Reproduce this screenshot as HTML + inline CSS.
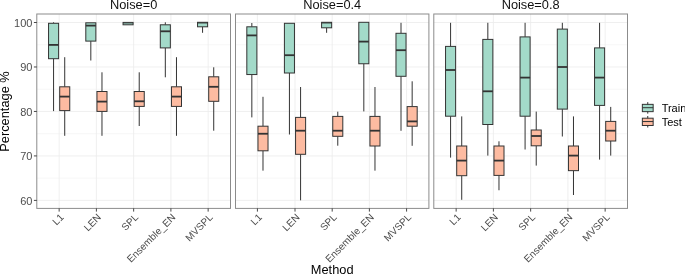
<!DOCTYPE html>
<html><head><meta charset="utf-8"><title>Boxplot</title>
<style>html,body{margin:0;padding:0;background:#fff;overflow:hidden}svg{display:block;will-change:transform;opacity:0.999}</style></head>
<body>
<svg width="685" height="275" viewBox="0 0 685 275" font-family="&quot;Liberation Sans&quot;, sans-serif">
<rect width="685" height="275" fill="#ffffff"/>
<line x1="36.8" x2="230.5" y1="44.74" y2="44.74" stroke="#ebebeb" stroke-width="0.4"/>
<line x1="36.8" x2="230.5" y1="89.21" y2="89.21" stroke="#ebebeb" stroke-width="0.4"/>
<line x1="36.8" x2="230.5" y1="133.69" y2="133.69" stroke="#ebebeb" stroke-width="0.4"/>
<line x1="36.8" x2="230.5" y1="178.16" y2="178.16" stroke="#ebebeb" stroke-width="0.4"/>
<line x1="36.8" x2="230.5" y1="22.50" y2="22.50" stroke="#ebebeb" stroke-width="0.8"/>
<line x1="36.8" x2="230.5" y1="66.97" y2="66.97" stroke="#ebebeb" stroke-width="0.8"/>
<line x1="36.8" x2="230.5" y1="111.45" y2="111.45" stroke="#ebebeb" stroke-width="0.8"/>
<line x1="36.8" x2="230.5" y1="155.92" y2="155.92" stroke="#ebebeb" stroke-width="0.8"/>
<line x1="36.8" x2="230.5" y1="200.40" y2="200.40" stroke="#ebebeb" stroke-width="0.8"/>
<line x1="59.15" x2="59.15" y1="14.0" y2="208.4" stroke="#ebebeb" stroke-width="0.8"/>
<line x1="96.40" x2="96.40" y1="14.0" y2="208.4" stroke="#ebebeb" stroke-width="0.8"/>
<line x1="133.65" x2="133.65" y1="14.0" y2="208.4" stroke="#ebebeb" stroke-width="0.8"/>
<line x1="170.90" x2="170.90" y1="14.0" y2="208.4" stroke="#ebebeb" stroke-width="0.8"/>
<line x1="208.15" x2="208.15" y1="14.0" y2="208.4" stroke="#ebebeb" stroke-width="0.8"/>
<line x1="53.57" x2="53.57" y1="22.3" y2="23.3" stroke="#333333" stroke-width="1.0"/>
<line x1="53.57" x2="53.57" y1="58.7" y2="111.1" stroke="#333333" stroke-width="1.0"/>
<rect x="48.55" y="23.3" width="10.05" height="35.40" fill="#a3dac9" stroke="#333333" stroke-width="1.0" stroke-linejoin="miter"/>
<line x1="48.55" x2="58.60" y1="44.9" y2="44.9" stroke="#333333" stroke-width="1.8"/>
<line x1="64.72" x2="64.72" y1="57.2" y2="86.8" stroke="#333333" stroke-width="1.0"/>
<line x1="64.72" x2="64.72" y1="110.6" y2="135.8" stroke="#333333" stroke-width="1.0"/>
<rect x="59.70" y="86.8" width="10.05" height="23.80" fill="#fdbba1" stroke="#333333" stroke-width="1.0" stroke-linejoin="miter"/>
<line x1="59.70" x2="69.75" y1="96.6" y2="96.6" stroke="#333333" stroke-width="1.8"/>
<line x1="90.82" x2="90.82" y1="41.1" y2="60.5" stroke="#333333" stroke-width="1.0"/>
<rect x="85.80" y="22.8" width="10.05" height="18.30" fill="#a3dac9" stroke="#333333" stroke-width="1.0" stroke-linejoin="miter"/>
<line x1="85.80" x2="95.85" y1="25.6" y2="25.6" stroke="#333333" stroke-width="1.8"/>
<line x1="101.97" x2="101.97" y1="72.3" y2="91.5" stroke="#333333" stroke-width="1.0"/>
<line x1="101.97" x2="101.97" y1="111.4" y2="135.8" stroke="#333333" stroke-width="1.0"/>
<rect x="96.95" y="91.5" width="10.05" height="19.90" fill="#fdbba1" stroke="#333333" stroke-width="1.0" stroke-linejoin="miter"/>
<line x1="96.95" x2="107.00" y1="101.6" y2="101.6" stroke="#333333" stroke-width="1.8"/>
<rect x="123.05" y="22.4" width="10.05" height="2.40" fill="#a3dac9" stroke="#333333" stroke-width="1.0" stroke-linejoin="miter"/>
<line x1="123.05" x2="133.10" y1="23.5" y2="23.5" stroke="#333333" stroke-width="0.4"/>
<line x1="139.22" x2="139.22" y1="72.3" y2="91.5" stroke="#333333" stroke-width="1.0"/>
<line x1="139.22" x2="139.22" y1="106.4" y2="126.0" stroke="#333333" stroke-width="1.0"/>
<rect x="134.20" y="91.5" width="10.05" height="14.90" fill="#fdbba1" stroke="#333333" stroke-width="1.0" stroke-linejoin="miter"/>
<line x1="134.20" x2="144.25" y1="101.3" y2="101.3" stroke="#333333" stroke-width="1.8"/>
<line x1="165.32" x2="165.32" y1="22.3" y2="24.8" stroke="#333333" stroke-width="1.0"/>
<line x1="165.32" x2="165.32" y1="47.9" y2="77.3" stroke="#333333" stroke-width="1.0"/>
<rect x="160.30" y="24.8" width="10.05" height="23.10" fill="#a3dac9" stroke="#333333" stroke-width="1.0" stroke-linejoin="miter"/>
<line x1="160.30" x2="170.35" y1="31.3" y2="31.3" stroke="#333333" stroke-width="1.8"/>
<line x1="176.47" x2="176.47" y1="57.2" y2="86.8" stroke="#333333" stroke-width="1.0"/>
<line x1="176.47" x2="176.47" y1="106.4" y2="135.8" stroke="#333333" stroke-width="1.0"/>
<rect x="171.45" y="86.8" width="10.05" height="19.60" fill="#fdbba1" stroke="#333333" stroke-width="1.0" stroke-linejoin="miter"/>
<line x1="171.45" x2="181.50" y1="96.6" y2="96.6" stroke="#333333" stroke-width="1.8"/>
<line x1="202.57" x2="202.57" y1="26.8" y2="32.8" stroke="#333333" stroke-width="1.0"/>
<rect x="197.55" y="22.3" width="10.05" height="4.50" fill="#a3dac9" stroke="#333333" stroke-width="1.0" stroke-linejoin="miter"/>
<line x1="197.55" x2="207.60" y1="22.9" y2="22.9" stroke="#333333" stroke-width="1.1"/>
<line x1="213.72" x2="213.72" y1="67.3" y2="76.8" stroke="#333333" stroke-width="1.0"/>
<line x1="213.72" x2="213.72" y1="101.3" y2="130.7" stroke="#333333" stroke-width="1.0"/>
<rect x="208.70" y="76.8" width="10.05" height="24.50" fill="#fdbba1" stroke="#333333" stroke-width="1.0" stroke-linejoin="miter"/>
<line x1="208.70" x2="218.75" y1="86.8" y2="86.8" stroke="#333333" stroke-width="1.8"/>
<rect x="36.8" y="14.0" width="193.70" height="194.40" fill="none" stroke="#8c8c8c" stroke-width="1"/>
<text x="133.65" y="9.4" font-size="12.8" fill="#111111" text-anchor="middle">Noise=0</text>
<line x1="59.15" x2="59.15" y1="208.4" y2="211.6" stroke="#333333" stroke-width="0.9"/>
<text transform="translate(64.45,217.90) rotate(-45)" font-size="10" fill="#4d4d4d" text-anchor="end" y="0">L1</text>
<line x1="96.40" x2="96.40" y1="208.4" y2="211.6" stroke="#333333" stroke-width="0.9"/>
<text transform="translate(101.70,217.90) rotate(-45)" font-size="10" fill="#4d4d4d" text-anchor="end" y="0">LEN</text>
<line x1="133.65" x2="133.65" y1="208.4" y2="211.6" stroke="#333333" stroke-width="0.9"/>
<text transform="translate(138.95,217.90) rotate(-45)" font-size="10" fill="#4d4d4d" text-anchor="end" y="0">SPL</text>
<line x1="170.90" x2="170.90" y1="208.4" y2="211.6" stroke="#333333" stroke-width="0.9"/>
<text transform="translate(176.20,217.90) rotate(-45)" font-size="10" fill="#4d4d4d" text-anchor="end" y="0">Ensemble_EN</text>
<line x1="208.15" x2="208.15" y1="208.4" y2="211.6" stroke="#333333" stroke-width="0.9"/>
<text transform="translate(213.45,217.90) rotate(-45)" font-size="10" fill="#4d4d4d" text-anchor="end" y="0">MVSPL</text>
<line x1="235.5" x2="428.9" y1="44.74" y2="44.74" stroke="#ebebeb" stroke-width="0.4"/>
<line x1="235.5" x2="428.9" y1="89.21" y2="89.21" stroke="#ebebeb" stroke-width="0.4"/>
<line x1="235.5" x2="428.9" y1="133.69" y2="133.69" stroke="#ebebeb" stroke-width="0.4"/>
<line x1="235.5" x2="428.9" y1="178.16" y2="178.16" stroke="#ebebeb" stroke-width="0.4"/>
<line x1="235.5" x2="428.9" y1="22.50" y2="22.50" stroke="#ebebeb" stroke-width="0.8"/>
<line x1="235.5" x2="428.9" y1="66.97" y2="66.97" stroke="#ebebeb" stroke-width="0.8"/>
<line x1="235.5" x2="428.9" y1="111.45" y2="111.45" stroke="#ebebeb" stroke-width="0.8"/>
<line x1="235.5" x2="428.9" y1="155.92" y2="155.92" stroke="#ebebeb" stroke-width="0.8"/>
<line x1="235.5" x2="428.9" y1="200.40" y2="200.40" stroke="#ebebeb" stroke-width="0.8"/>
<line x1="257.42" x2="257.42" y1="14.0" y2="208.4" stroke="#ebebeb" stroke-width="0.8"/>
<line x1="295.01" x2="295.01" y1="14.0" y2="208.4" stroke="#ebebeb" stroke-width="0.8"/>
<line x1="332.20" x2="332.20" y1="14.0" y2="208.4" stroke="#ebebeb" stroke-width="0.8"/>
<line x1="369.39" x2="369.39" y1="14.0" y2="208.4" stroke="#ebebeb" stroke-width="0.8"/>
<line x1="406.58" x2="406.58" y1="14.0" y2="208.4" stroke="#ebebeb" stroke-width="0.8"/>
<line x1="251.84" x2="251.84" y1="23.0" y2="26.8" stroke="#333333" stroke-width="1.0"/>
<line x1="251.84" x2="251.84" y1="74.55" y2="117.4" stroke="#333333" stroke-width="1.0"/>
<rect x="246.82" y="26.8" width="10.05" height="47.75" fill="#a3dac9" stroke="#333333" stroke-width="1.0" stroke-linejoin="miter"/>
<line x1="246.82" x2="256.87" y1="35.4" y2="35.4" stroke="#333333" stroke-width="1.8"/>
<line x1="262.99" x2="262.99" y1="96.8" y2="126.2" stroke="#333333" stroke-width="1.0"/>
<line x1="262.99" x2="262.99" y1="150.8" y2="170.65" stroke="#333333" stroke-width="1.0"/>
<rect x="257.97" y="126.2" width="10.05" height="24.60" fill="#fdbba1" stroke="#333333" stroke-width="1.0" stroke-linejoin="miter"/>
<line x1="257.97" x2="268.02" y1="133.75" y2="133.75" stroke="#333333" stroke-width="1.8"/>
<line x1="289.43" x2="289.43" y1="73.0" y2="134.5" stroke="#333333" stroke-width="1.0"/>
<rect x="284.41" y="23.3" width="10.05" height="49.70" fill="#a3dac9" stroke="#333333" stroke-width="1.0" stroke-linejoin="miter"/>
<line x1="284.41" x2="294.46" y1="55.2" y2="55.2" stroke="#333333" stroke-width="1.8"/>
<line x1="300.58" x2="300.58" y1="87.0" y2="117.4" stroke="#333333" stroke-width="1.0"/>
<line x1="300.58" x2="300.58" y1="154.3" y2="200.3" stroke="#333333" stroke-width="1.0"/>
<rect x="295.56" y="117.4" width="10.05" height="36.90" fill="#fdbba1" stroke="#333333" stroke-width="1.0" stroke-linejoin="miter"/>
<line x1="295.56" x2="305.61" y1="130.7" y2="130.7" stroke="#333333" stroke-width="1.8"/>
<line x1="326.62" x2="326.62" y1="27.8" y2="32.8" stroke="#333333" stroke-width="1.0"/>
<rect x="321.60" y="22.3" width="10.05" height="5.50" fill="#a3dac9" stroke="#333333" stroke-width="1.0" stroke-linejoin="miter"/>
<line x1="321.60" x2="331.65" y1="22.9" y2="22.9" stroke="#333333" stroke-width="1.1"/>
<line x1="337.77" x2="337.77" y1="111.7" y2="116.4" stroke="#333333" stroke-width="1.0"/>
<line x1="337.77" x2="337.77" y1="136.3" y2="145.7" stroke="#333333" stroke-width="1.0"/>
<rect x="332.75" y="116.4" width="10.05" height="19.90" fill="#fdbba1" stroke="#333333" stroke-width="1.0" stroke-linejoin="miter"/>
<line x1="332.75" x2="342.80" y1="130.7" y2="130.7" stroke="#333333" stroke-width="1.8"/>
<line x1="363.82" x2="363.82" y1="63.75" y2="111.4" stroke="#333333" stroke-width="1.0"/>
<rect x="358.79" y="22.3" width="10.05" height="41.45" fill="#a3dac9" stroke="#333333" stroke-width="1.0" stroke-linejoin="miter"/>
<line x1="358.79" x2="368.84" y1="41.6" y2="41.6" stroke="#333333" stroke-width="1.8"/>
<line x1="374.97" x2="374.97" y1="87.0" y2="116.4" stroke="#333333" stroke-width="1.0"/>
<line x1="374.97" x2="374.97" y1="146.0" y2="170.65" stroke="#333333" stroke-width="1.0"/>
<rect x="369.94" y="116.4" width="10.05" height="29.60" fill="#fdbba1" stroke="#333333" stroke-width="1.0" stroke-linejoin="miter"/>
<line x1="369.94" x2="379.99" y1="130.7" y2="130.7" stroke="#333333" stroke-width="1.8"/>
<line x1="401.01" x2="401.01" y1="22.8" y2="33.3" stroke="#333333" stroke-width="1.0"/>
<line x1="401.01" x2="401.01" y1="76.3" y2="130.8" stroke="#333333" stroke-width="1.0"/>
<rect x="395.98" y="33.3" width="10.05" height="43.00" fill="#a3dac9" stroke="#333333" stroke-width="1.0" stroke-linejoin="miter"/>
<line x1="395.98" x2="406.03" y1="50.2" y2="50.2" stroke="#333333" stroke-width="1.8"/>
<line x1="412.16" x2="412.16" y1="81.3" y2="106.6" stroke="#333333" stroke-width="1.0"/>
<line x1="412.16" x2="412.16" y1="126.2" y2="145.8" stroke="#333333" stroke-width="1.0"/>
<rect x="407.13" y="106.6" width="10.05" height="19.60" fill="#fdbba1" stroke="#333333" stroke-width="1.0" stroke-linejoin="miter"/>
<line x1="407.13" x2="417.18" y1="121.4" y2="121.4" stroke="#333333" stroke-width="1.8"/>
<rect x="235.5" y="14.0" width="193.40" height="194.40" fill="none" stroke="#8c8c8c" stroke-width="1"/>
<text x="332.20" y="9.4" font-size="12.8" fill="#111111" text-anchor="middle">Noise=0.4</text>
<line x1="257.42" x2="257.42" y1="208.4" y2="211.6" stroke="#333333" stroke-width="0.9"/>
<text transform="translate(262.72,217.90) rotate(-45)" font-size="10" fill="#4d4d4d" text-anchor="end" y="0">L1</text>
<line x1="295.01" x2="295.01" y1="208.4" y2="211.6" stroke="#333333" stroke-width="0.9"/>
<text transform="translate(300.31,217.90) rotate(-45)" font-size="10" fill="#4d4d4d" text-anchor="end" y="0">LEN</text>
<line x1="332.20" x2="332.20" y1="208.4" y2="211.6" stroke="#333333" stroke-width="0.9"/>
<text transform="translate(337.50,217.90) rotate(-45)" font-size="10" fill="#4d4d4d" text-anchor="end" y="0">SPL</text>
<line x1="369.39" x2="369.39" y1="208.4" y2="211.6" stroke="#333333" stroke-width="0.9"/>
<text transform="translate(374.69,217.90) rotate(-45)" font-size="10" fill="#4d4d4d" text-anchor="end" y="0">Ensemble_EN</text>
<line x1="406.58" x2="406.58" y1="208.4" y2="211.6" stroke="#333333" stroke-width="0.9"/>
<text transform="translate(411.88,217.90) rotate(-45)" font-size="10" fill="#4d4d4d" text-anchor="end" y="0">MVSPL</text>
<line x1="433.8" x2="627.5" y1="44.74" y2="44.74" stroke="#ebebeb" stroke-width="0.4"/>
<line x1="433.8" x2="627.5" y1="89.21" y2="89.21" stroke="#ebebeb" stroke-width="0.4"/>
<line x1="433.8" x2="627.5" y1="133.69" y2="133.69" stroke="#ebebeb" stroke-width="0.4"/>
<line x1="433.8" x2="627.5" y1="178.16" y2="178.16" stroke="#ebebeb" stroke-width="0.4"/>
<line x1="433.8" x2="627.5" y1="22.50" y2="22.50" stroke="#ebebeb" stroke-width="0.8"/>
<line x1="433.8" x2="627.5" y1="66.97" y2="66.97" stroke="#ebebeb" stroke-width="0.8"/>
<line x1="433.8" x2="627.5" y1="111.45" y2="111.45" stroke="#ebebeb" stroke-width="0.8"/>
<line x1="433.8" x2="627.5" y1="155.92" y2="155.92" stroke="#ebebeb" stroke-width="0.8"/>
<line x1="433.8" x2="627.5" y1="200.40" y2="200.40" stroke="#ebebeb" stroke-width="0.8"/>
<line x1="456.15" x2="456.15" y1="14.0" y2="208.4" stroke="#ebebeb" stroke-width="0.8"/>
<line x1="493.40" x2="493.40" y1="14.0" y2="208.4" stroke="#ebebeb" stroke-width="0.8"/>
<line x1="530.65" x2="530.65" y1="14.0" y2="208.4" stroke="#ebebeb" stroke-width="0.8"/>
<line x1="567.90" x2="567.90" y1="14.0" y2="208.4" stroke="#ebebeb" stroke-width="0.8"/>
<line x1="605.15" x2="605.15" y1="14.0" y2="208.4" stroke="#ebebeb" stroke-width="0.8"/>
<line x1="450.58" x2="450.58" y1="22.8" y2="46.4" stroke="#333333" stroke-width="1.0"/>
<line x1="450.58" x2="450.58" y1="116.2" y2="157.6" stroke="#333333" stroke-width="1.0"/>
<rect x="445.55" y="46.4" width="10.05" height="69.80" fill="#a3dac9" stroke="#333333" stroke-width="1.0" stroke-linejoin="miter"/>
<line x1="445.55" x2="455.60" y1="70.0" y2="70.0" stroke="#333333" stroke-width="1.8"/>
<line x1="461.73" x2="461.73" y1="116.4" y2="146.0" stroke="#333333" stroke-width="1.0"/>
<line x1="461.73" x2="461.73" y1="175.7" y2="199.8" stroke="#333333" stroke-width="1.0"/>
<rect x="456.70" y="146.0" width="10.05" height="29.70" fill="#fdbba1" stroke="#333333" stroke-width="1.0" stroke-linejoin="miter"/>
<line x1="456.70" x2="466.75" y1="160.6" y2="160.6" stroke="#333333" stroke-width="1.8"/>
<line x1="487.83" x2="487.83" y1="22.8" y2="39.4" stroke="#333333" stroke-width="1.0"/>
<line x1="487.83" x2="487.83" y1="124.5" y2="155.6" stroke="#333333" stroke-width="1.0"/>
<rect x="482.80" y="39.4" width="10.05" height="85.10" fill="#a3dac9" stroke="#333333" stroke-width="1.0" stroke-linejoin="miter"/>
<line x1="482.80" x2="492.85" y1="91.3" y2="91.3" stroke="#333333" stroke-width="1.8"/>
<line x1="498.98" x2="498.98" y1="141.3" y2="146.0" stroke="#333333" stroke-width="1.0"/>
<line x1="498.98" x2="498.98" y1="175.4" y2="190.25" stroke="#333333" stroke-width="1.0"/>
<rect x="493.95" y="146.0" width="10.05" height="29.40" fill="#fdbba1" stroke="#333333" stroke-width="1.0" stroke-linejoin="miter"/>
<line x1="493.95" x2="504.00" y1="160.6" y2="160.6" stroke="#333333" stroke-width="1.8"/>
<line x1="525.08" x2="525.08" y1="22.8" y2="36.9" stroke="#333333" stroke-width="1.0"/>
<line x1="525.08" x2="525.08" y1="116.2" y2="149.5" stroke="#333333" stroke-width="1.0"/>
<rect x="520.05" y="36.9" width="10.05" height="79.30" fill="#a3dac9" stroke="#333333" stroke-width="1.0" stroke-linejoin="miter"/>
<line x1="520.05" x2="530.10" y1="77.6" y2="77.6" stroke="#333333" stroke-width="1.8"/>
<line x1="536.23" x2="536.23" y1="111.6" y2="130.0" stroke="#333333" stroke-width="1.0"/>
<line x1="536.23" x2="536.23" y1="145.8" y2="165.6" stroke="#333333" stroke-width="1.0"/>
<rect x="531.20" y="130.0" width="10.05" height="15.80" fill="#fdbba1" stroke="#333333" stroke-width="1.0" stroke-linejoin="miter"/>
<line x1="531.20" x2="541.25" y1="136.0" y2="136.0" stroke="#333333" stroke-width="1.8"/>
<line x1="562.33" x2="562.33" y1="22.8" y2="29.1" stroke="#333333" stroke-width="1.0"/>
<line x1="562.33" x2="562.33" y1="109.1" y2="136.5" stroke="#333333" stroke-width="1.0"/>
<rect x="557.30" y="29.1" width="10.05" height="80.00" fill="#a3dac9" stroke="#333333" stroke-width="1.0" stroke-linejoin="miter"/>
<line x1="557.30" x2="567.35" y1="67.0" y2="67.0" stroke="#333333" stroke-width="1.8"/>
<line x1="573.48" x2="573.48" y1="116.4" y2="146.0" stroke="#333333" stroke-width="1.0"/>
<line x1="573.48" x2="573.48" y1="170.65" y2="195.0" stroke="#333333" stroke-width="1.0"/>
<rect x="568.45" y="146.0" width="10.05" height="24.65" fill="#fdbba1" stroke="#333333" stroke-width="1.0" stroke-linejoin="miter"/>
<line x1="568.45" x2="578.50" y1="155.6" y2="155.6" stroke="#333333" stroke-width="1.8"/>
<line x1="599.58" x2="599.58" y1="22.8" y2="47.9" stroke="#333333" stroke-width="1.0"/>
<line x1="599.58" x2="599.58" y1="105.4" y2="159.6" stroke="#333333" stroke-width="1.0"/>
<rect x="594.55" y="47.9" width="10.05" height="57.50" fill="#a3dac9" stroke="#333333" stroke-width="1.0" stroke-linejoin="miter"/>
<line x1="594.55" x2="604.60" y1="77.6" y2="77.6" stroke="#333333" stroke-width="1.8"/>
<line x1="610.73" x2="610.73" y1="106.9" y2="121.4" stroke="#333333" stroke-width="1.0"/>
<line x1="610.73" x2="610.73" y1="141.0" y2="155.6" stroke="#333333" stroke-width="1.0"/>
<rect x="605.70" y="121.4" width="10.05" height="19.60" fill="#fdbba1" stroke="#333333" stroke-width="1.0" stroke-linejoin="miter"/>
<line x1="605.70" x2="615.75" y1="130.7" y2="130.7" stroke="#333333" stroke-width="1.8"/>
<rect x="433.8" y="14.0" width="193.70" height="194.40" fill="none" stroke="#8c8c8c" stroke-width="1"/>
<text x="530.65" y="9.4" font-size="12.8" fill="#111111" text-anchor="middle">Noise=0.8</text>
<line x1="456.15" x2="456.15" y1="208.4" y2="211.6" stroke="#333333" stroke-width="0.9"/>
<text transform="translate(461.45,217.90) rotate(-45)" font-size="10" fill="#4d4d4d" text-anchor="end" y="0">L1</text>
<line x1="493.40" x2="493.40" y1="208.4" y2="211.6" stroke="#333333" stroke-width="0.9"/>
<text transform="translate(498.70,217.90) rotate(-45)" font-size="10" fill="#4d4d4d" text-anchor="end" y="0">LEN</text>
<line x1="530.65" x2="530.65" y1="208.4" y2="211.6" stroke="#333333" stroke-width="0.9"/>
<text transform="translate(535.95,217.90) rotate(-45)" font-size="10" fill="#4d4d4d" text-anchor="end" y="0">SPL</text>
<line x1="567.90" x2="567.90" y1="208.4" y2="211.6" stroke="#333333" stroke-width="0.9"/>
<text transform="translate(573.20,217.90) rotate(-45)" font-size="10" fill="#4d4d4d" text-anchor="end" y="0">Ensemble_EN</text>
<line x1="605.15" x2="605.15" y1="208.4" y2="211.6" stroke="#333333" stroke-width="0.9"/>
<text transform="translate(610.45,217.90) rotate(-45)" font-size="10" fill="#4d4d4d" text-anchor="end" y="0">MVSPL</text>
<line x1="33.9" x2="36.8" y1="22.50" y2="22.50" stroke="#333333" stroke-width="0.9"/>
<text x="32.4" y="26.65" font-size="11" fill="#4d4d4d" text-anchor="end">100</text>
<line x1="33.9" x2="36.8" y1="66.97" y2="66.97" stroke="#333333" stroke-width="0.9"/>
<text x="32.4" y="71.12" font-size="11" fill="#4d4d4d" text-anchor="end">90</text>
<line x1="33.9" x2="36.8" y1="111.45" y2="111.45" stroke="#333333" stroke-width="0.9"/>
<text x="32.4" y="115.60" font-size="11" fill="#4d4d4d" text-anchor="end">80</text>
<line x1="33.9" x2="36.8" y1="155.92" y2="155.92" stroke="#333333" stroke-width="0.9"/>
<text x="32.4" y="160.07" font-size="11" fill="#4d4d4d" text-anchor="end">70</text>
<line x1="33.9" x2="36.8" y1="200.40" y2="200.40" stroke="#333333" stroke-width="0.9"/>
<text x="32.4" y="204.55" font-size="11" fill="#4d4d4d" text-anchor="end">60</text>
<text x="332.2" y="274.1" font-size="12.8" fill="#000" text-anchor="middle">Method</text>
<text transform="translate(9.4,111.5) rotate(-90)" font-size="12.8" fill="#000" text-anchor="middle">Percentage %</text>
<line x1="647.75" x2="647.75" y1="102.15" y2="113.65" stroke="#333333" stroke-width="1.0"/>
<rect x="642.35" y="104.35000000000001" width="10.8" height="7.3" fill="#a3dac9" stroke="#333333" stroke-width="1.0" stroke-linejoin="miter"/>
<line x1="642.35" x2="653.15" y1="107.70" y2="107.70" stroke="#333333" stroke-width="1"/>
<text x="661.65" y="111.80" font-size="11" fill="#000">Train</text>
<line x1="647.75" x2="647.75" y1="116.0" y2="127.5" stroke="#333333" stroke-width="1.0"/>
<rect x="642.35" y="118.2" width="10.8" height="7.3" fill="#fdbba1" stroke="#333333" stroke-width="1.0" stroke-linejoin="miter"/>
<line x1="642.35" x2="653.15" y1="121.55" y2="121.55" stroke="#333333" stroke-width="1"/>
<text x="661.65" y="125.65" font-size="11" fill="#000">Test</text>
</svg>
</body></html>
